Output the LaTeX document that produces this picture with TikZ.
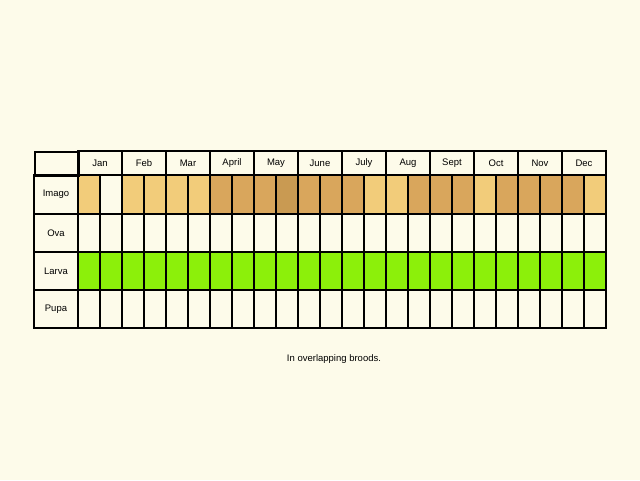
\documentclass[tikz,border=0pt]{standalone}
\usepackage{fontspec}
\setmainfont{Liberation Sans}
\definecolor{bg}{HTML}{FDFBEA}
\definecolor{lt}{HTML}{F2CC7A}
\definecolor{dk}{HTML}{D9A65C}
\definecolor{dd}{HTML}{C99A52}
\definecolor{gr}{HTML}{8CF00A}
\begin{document}
\begin{tikzpicture}[x=1pt,y=-1pt,
  cell/.style={draw=black,line width=1.6pt},
  lbl/.style={font=\fontsize{9.5}{11}\selectfont}]
\fill[bg] (0,0) rectangle (640,480);
\useasboundingbox (0,0) rectangle (640,480);
% row fills
\def\fills{lt,bg,lt,lt,lt,lt,dk,dk,dk,dd,dk,dk,dk,lt,lt,dk,dk,dk,lt,dk,dk,dk,dk,lt}
\foreach \c [count=\i from 0] in \fills {
  \fill[\c] ({78+22*\i},175) rectangle ({100+22*\i},214);
  \fill[gr] ({78+22*\i},252) rectangle ({100+22*\i},290);
}
% header
\node[cell,minimum width=44pt,minimum height=24pt,anchor=north west] (h0) at (34,151) {};
\foreach \m [count=\i from 0] in {Jan,Feb,Mar,April,May,June,July,Aug,Sept,Oct,Nov,Dec} {
  \draw[cell] ({78+44*\i},151) rectangle ({122+44*\i},175);
  \node[lbl] (m\i) at ({100+44*\i},163) {\m};
}
\foreach \r/\y/\h in {Imago/175/214,Ova/214/252,Larva/252/290,Pupa/290/328} {
  \draw[cell] (34,\y) rectangle (78,\h);
  \node[lbl] (r\r) at (56,{(\y+\h)/2}) {\r};
  \foreach \i in {0,...,23} \draw[cell] ({78+22*\i},\y) rectangle ({100+22*\i},\h);
}
\node[lbl] (cap) at (334,359) {In overlapping broods.};
\end{tikzpicture}
\end{document}
